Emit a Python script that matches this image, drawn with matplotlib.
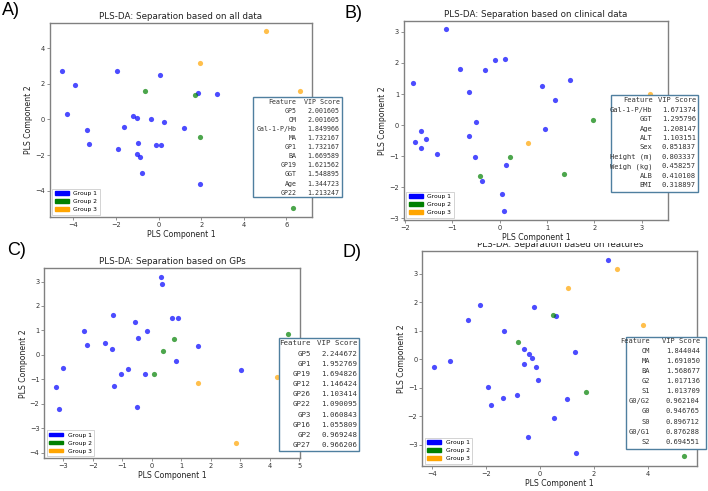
import matplotlib
matplotlib.use('Agg')
import matplotlib.pyplot as plt
from matplotlib.patches import Patch, Rectangle

# -------------------------------------------------------------------
# data
# -------------------------------------------------------------------
groups = ['Group 1', 'Group 2', 'Group 3']
gcols  = ['blue', 'green', 'orange']

# A) all data
a_g1_x = [-4.55, -3.94, -4.31, -3.34, -3.28, -1.95, -1.89, -1.63, -1.22, -1.03, -0.98, -1.0,
          -0.86, -0.80, -0.36, -0.14, 0.06, 0.09, 0.23, 1.20, 1.84, 2.72, 1.94]
a_g1_y = [2.7, 1.92, 0.31, -0.61, -1.39, 2.75, -1.64, -0.40, 0.22, 0.07, -1.34, -1.96,
          -2.12, -2.99, 0.05, -1.45, 2.52, -1.45, -0.14, -0.49, 1.51, 1.45, -3.62]
a_g2_x = [-0.63, 1.73, 1.95, 6.33]
a_g2_y = [1.62, 1.38, -0.96, -4.97]
a_g3_x = [5.06, 1.92, 6.63]
a_g3_y = [4.97, 3.18, 1.60]
a_feat = ['GP5', 'OM', 'Gal-1-P/Hb', 'MA', 'GP1', 'BA', 'GP19', 'GGT', 'Age', 'GP22']
a_vip  = [2.001605, 2.001605, 1.849966, 1.732167, 1.732167, 1.669589, 1.621562,
          1.548895, 1.344723, 1.213247]

# B) clinical data
b_g1_x = [-1.14, -1.84, -0.83, -0.31, -0.10, 0.11, -0.64, -0.49, -0.64, -1.67, -1.56, -1.79,
          -1.66, -1.33, -0.52, 0.13, -0.38, 0.05, 0.09, 0.89, 1.48, 1.17, 0.96]
b_g1_y = [3.09, 1.35, 1.80, 1.76, 2.10, 2.13, 1.08, 0.11, -0.34, -0.18, -0.45, -0.54,
          -0.72, -0.94, -1.02, -1.29, -1.79, -2.20, -2.76, 1.27, 1.45, 0.80, -0.11]
b_g2_x = [0.23, -0.41, 1.37, 1.97]
b_g2_y = [-1.01, -1.63, -1.57, 0.16]
b_g3_x = [0.60, 3.17]
b_g3_y = [-0.58, 1.0]
b_feat = ['Gal-1-P/Hb', 'GGT', 'Age', 'ALT', 'Sex', 'Height (m)', 'Weigh (kg)', 'ALB', 'BMI']
b_vip  = [1.671374, 1.295796, 1.208147, 1.103151, 0.851837, 0.803337, 0.458257,
          0.410108, 0.318897]

# C) GPs
c_g1_x = [0.33, 0.36, -1.31, -2.29, -2.20, -1.57, -1.36, -0.56, -0.16, -0.47, 0.69, 0.89,
          1.57, 0.83, -2.99, -3.26, -3.15, -0.81, -1.04, -0.23, -1.27, -0.49, 3.03]
c_g1_y = [3.18, 2.90, 1.62, 0.96, 0.39, 0.47, 0.23, 1.34, 0.99, 0.69, 1.50, 1.50,
          0.36, -0.25, -0.53, -1.31, -2.22, -0.56, -0.78, -0.80, -1.28, -2.12, -0.61]
c_g2_x = [0.38, 0.76, 0.07, 4.61]
c_g2_y = [0.17, 0.66, -0.78, 0.84]
c_g3_x = [1.58, 4.26, 2.85]
c_g3_y = [-1.17, -0.89, -3.6]
c_feat = ['GP5', 'GP1', 'GP19', 'GP12', 'GP26', 'GP22', 'GP3', 'GP16', 'GP2', 'GP27']
c_vip  = [2.244672, 1.952769, 1.694826, 1.146424, 1.103414, 1.090095, 1.060843,
          1.055809, 0.969248, 0.966206]

# D) features
d_g1_x = [2.54, -2.23, -2.66, -1.35, -0.21, 0.61, -3.34, -3.94, -0.58, -0.41, -0.31, -0.58,
          -0.14, -0.07, 1.31, -1.92, -1.37, -0.84, -1.83, 0.99, 0.52, -0.45, 1.33]
d_g1_y = [3.46, 1.89, 1.36, 1.0, 1.82, 1.53, -0.06, -0.28, 0.36, 0.19, 0.04, -0.17,
          -0.28, -0.73, 0.25, -0.98, -1.36, -1.25, -1.62, -1.38, -2.05, -2.73, -3.27]
d_g2_x = [0.47, -0.82, 1.73, 5.36]
d_g2_y = [1.55, 0.61, -1.15, -3.39]
d_g3_x = [2.86, 1.03, 3.83]
d_g3_y = [3.15, 2.51, 1.20]
d_feat = ['OM', 'MA', 'BA', 'G2', 'S1', 'G0/G2', 'G0', 'S0', 'G0/G1', 'S2']
d_vip  = [1.844044, 1.691050, 1.568677, 1.017136, 1.013709, 0.962104, 0.946765,
          0.896712, 0.876288, 0.694551]

# -------------------------------------------------------------------
W, H = 708., 491.
fig = plt.figure(figsize=(W / 100, H / 100), dpi=100)

def fx(x):
  return x / W

def fy(y):
  return 1 - y / H

def panel(l, t, r, b, xs, ys, title, xlim, ylim, xticks, yticks, xlab=True):
  ax = fig.add_axes([fx(l), fy(b), (r - l) / W, (b - t) / H])
  for gx, gy, c in zip(xs, ys, gcols):
    ax.scatter(gx, gy, s=14, color=c, alpha=0.7, linewidths=0)
  ax.set_xlim(xlim)
  ax.set_ylim(ylim)
  ax.set_xticks(xticks)
  ax.set_yticks(yticks)
  for sp in ax.spines.values():
    sp.set_color('#808080')
    sp.set_linewidth(1.0)
  ax.tick_params(labelsize=4.8, length=2, width=0.6, pad=1.5, colors='#808080', labelcolor='#333333')
  if xlab:
    ax.set_xlabel('PLS Component 1', fontsize=5.6, labelpad=1.5, color='#222222')
  ax.set_ylabel('PLS Component 2', fontsize=5.6, labelpad=1.5, color='#222222')
  if title:
    ax.set_title(title, fontsize=6.3, pad=3, color='#222222')
  handles = [Patch(color=c, label=g) for c, g in zip(gcols, groups)]
  leg = ax.legend(handles=handles, loc='lower left', fontsize=4.3, handlelength=2.3,
                  handleheight=0.6, labelspacing=0.5, borderpad=0.4, borderaxespad=0.4,
                  fancybox=False, edgecolor='#cccccc', framealpha=1)
  leg.get_frame().set_linewidth(0.6)
  return ax

def table(l, t, r, b, feats, vips, first, step, xf, xv, fs):
  fig.patches.append(Rectangle((fx(l), fy(b)), (r - l) / W, (b - t) / H,
                               transform=fig.transFigure, facecolor='white',
                               edgecolor='#4f7f9f', linewidth=1.0, zorder=2))
  kw = dict(ha='right', va='center', fontsize=fs, family='DejaVu Sans Mono',
            color='#333333', zorder=4)
  fig.text(fx(xf), fy(first), 'Feature', **kw)
  fig.text(fx(xv), fy(first), 'VIP Score', **kw)
  for i, (f, v) in enumerate(zip(feats, vips)):
    y = first + (i + 1) * step
    fig.text(fx(xf), fy(y), f, **kw)
    fig.text(fx(xv), fy(y), '%.6f' % v, **kw)

panel(50, 23, 312, 217, [a_g1_x, a_g2_x, a_g3_x], [a_g1_y, a_g2_y, a_g3_y],
      'PLS-DA: Separation based on all data', (-5.1, 7.2), (-5.48, 5.42),
      [-4, -2, 0, 2, 4, 6], [-4, -2, 0, 2, 4])
panel(404, 20.7, 668, 220, [b_g1_x, b_g2_x, b_g3_x], [b_g1_y, b_g2_y, b_g3_y],
      'PLS-DA: Separation based on clinical data', (-2.02, 3.56), (-3.05, 3.36),
      [-2, -1, 0, 1, 2, 3], [-3, -2, -1, 0, 1, 2, 3], xlab=False)
panel(44.3, 268.3, 300, 458.3, [c_g1_x, c_g2_x, c_g3_x], [c_g1_y, c_g2_y, c_g3_y],
      'PLS-DA: Separation based on GPs', (-3.64, 5.03), (-4.23, 3.54),
      [-3, -2, -1, 0, 1, 2, 3, 4, 5], [-4, -3, -2, -1, 0, 1, 2, 3])
panel(422.3, 251, 697.3, 466, [d_g1_x, d_g2_x, d_g3_x], [d_g1_y, d_g2_y, d_g3_y],
      None, (-4.37, 5.85), (-3.74, 3.79),
      [-4, -2, 0, 2, 4], [-3, -2, -1, 0, 1, 2, 3])

# title of D is half hidden behind panel B: draw it, then cover its top
fig.text(fx(559.8), fy(247), 'PLS-DA: Separation based on features', ha='center',
         va='baseline', fontsize=6.3, color='#222222', zorder=1)
fig.patches.append(Rectangle((fx(440), fy(243.5)), 260 / W, 12 / H,
                             transform=fig.transFigure, facecolor='white',
                             edgecolor='none', zorder=1.5))
# x label of B sits on top of that
fig.text(fx(536), fy(237), 'PLS Component 1', ha='center', va='center',
         fontsize=5.6, color='#222222', zorder=3)

table(253.3, 96.7, 342, 196.7, a_feat, a_vip, 101.7, 9.1, 296.7, 339.5, 4.8)
table(611, 95, 698, 191.7, b_feat, b_vip, 100.5, 9.4, 652.5, 696, 5.1)
table(279.3, 337.5, 359.3, 450.5, c_feat, c_vip, 343.3, 10.2, 310.7, 357.3, 5.3)
table(626, 336.7, 706, 449.3, d_feat, d_vip, 340.7, 10.1, 650, 700, 5.0)

lab = dict(fontsize=13, family='Liberation Sans', va='baseline', ha='left')
fig.text(fx(2), fy(15), 'A)', **lab)
fig.text(fx(345), fy(18), 'B)', **lab)
fig.text(fx(6.7), fy(255), 'C)', **lab)
fig.text(fx(342), fy(257), 'D)', **lab)

plt.savefig('out.png', dpi=100)
plt.close()
